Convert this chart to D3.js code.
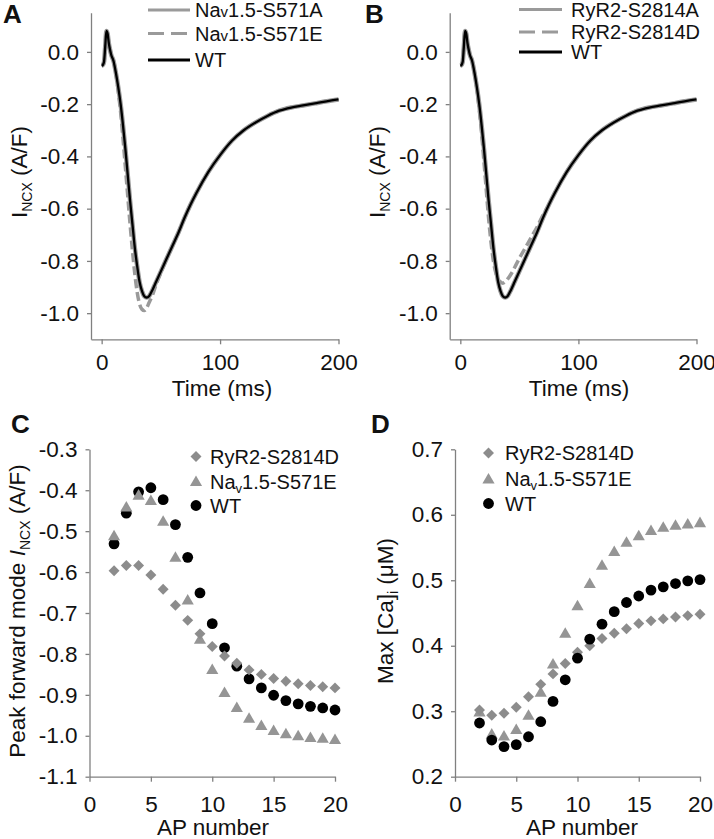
<!DOCTYPE html>
<html><head><meta charset="utf-8">
<script src="https://cdn.jsdelivr.net/npm/d3@7"></script>
<style>body{margin:0;background:#fff} text{font-family:"Liberation Sans",Arial,sans-serif;fill:#111}</style>
</head><body><svg id="c" width="714" height="839"></svg>
<script>
// ---------- data ----------
const timeMs = [0,1,2,3,4,5,6,7,8,10,12,14,16,18,20,22,24,26,28,30,32,34,36,38,40,43,46,50,55,60,65,70,75,80,90,100,110,120,130,140,150,160,170,180,190,200];
const wtTrace = [-0.053,-0.05,-0.038,0.02,0.08,0.07,0.035,0.01,-0.01,-0.035,-0.08,-0.135,-0.2,-0.28,-0.37,-0.47,-0.57,-0.66,-0.75,-0.82,-0.88,-0.915,-0.935,-0.94,-0.935,-0.91,-0.88,-0.84,-0.79,-0.74,-0.69,-0.635,-0.585,-0.54,-0.46,-0.395,-0.34,-0.3,-0.27,-0.245,-0.225,-0.213,-0.205,-0.197,-0.189,-0.182];
const nav571ATrace = [-0.053,-0.05,-0.038,0.02,0.08,0.07,0.035,0.01,-0.01,-0.035,-0.08,-0.135,-0.2,-0.28,-0.37,-0.47,-0.57,-0.66,-0.75,-0.82,-0.88,-0.915,-0.935,-0.94,-0.935,-0.91,-0.88,-0.84,-0.79,-0.74,-0.69,-0.635,-0.585,-0.54,-0.46,-0.395,-0.34,-0.3,-0.27,-0.245,-0.225,-0.213,-0.205,-0.197,-0.189,-0.182];
const nav571ETrace = [-0.053,-0.05,-0.038,0.02,0.08,0.07,0.035,0.01,-0.01,-0.035,-0.08,-0.15,-0.23,-0.33,-0.44,-0.55,-0.66,-0.76,-0.85,-0.92,-0.965,-0.985,-0.99,-0.98,-0.96,-0.93,-0.89,-0.845,-0.79,-0.74,-0.69,-0.635,-0.585,-0.54,-0.46,-0.395,-0.34,-0.3,-0.27,-0.245,-0.225,-0.213,-0.205,-0.197,-0.189,-0.182];
const ryr2814ATrace = [-0.053,-0.05,-0.038,0.02,0.08,0.07,0.035,0.01,-0.01,-0.035,-0.08,-0.135,-0.2,-0.28,-0.37,-0.47,-0.57,-0.66,-0.75,-0.82,-0.88,-0.915,-0.935,-0.94,-0.935,-0.91,-0.88,-0.84,-0.79,-0.74,-0.69,-0.635,-0.585,-0.54,-0.46,-0.395,-0.34,-0.3,-0.27,-0.245,-0.225,-0.213,-0.205,-0.197,-0.189,-0.182];
const ryr2814DTrace = [-0.053,-0.05,-0.038,0.02,0.08,0.07,0.035,0.01,-0.01,-0.035,-0.08,-0.14,-0.22,-0.31,-0.42,-0.53,-0.64,-0.73,-0.8,-0.845,-0.87,-0.88,-0.885,-0.88,-0.87,-0.85,-0.825,-0.79,-0.75,-0.71,-0.67,-0.625,-0.585,-0.54,-0.46,-0.395,-0.34,-0.3,-0.27,-0.245,-0.225,-0.213,-0.205,-0.197,-0.189,-0.182];

const apNumber = [2,3,4,5,6,7,8,9,10,11,12,13,14,15,16,17,18,19,20];
const peakRyR2D = [-0.597,-0.584,-0.584,-0.607,-0.642,-0.681,-0.718,-0.751,-0.782,-0.805,-0.823,-0.839,-0.85,-0.86,-0.867,-0.873,-0.877,-0.88,-0.883];
const peakNav571E = [-0.511,-0.441,-0.412,-0.425,-0.476,-0.564,-0.668,-0.764,-0.838,-0.894,-0.931,-0.957,-0.975,-0.987,-0.995,-1.0,-1.004,-1.006,-1.009];
const peakWT = [-0.531,-0.456,-0.404,-0.394,-0.423,-0.484,-0.564,-0.651,-0.726,-0.785,-0.83,-0.861,-0.883,-0.901,-0.914,-0.922,-0.928,-0.932,-0.937];
const caRyR2D = [0.302,0.294,0.297,0.306,0.322,0.341,0.357,0.373,0.39,0.4,0.411,0.419,0.426,0.434,0.438,0.441,0.444,0.446,0.448];
const caNav571E = [0.299,0.265,0.262,0.272,0.294,0.329,0.372,0.419,0.461,0.495,0.523,0.544,0.558,0.568,0.576,0.581,0.584,0.586,0.588];
const caWT = [0.282,0.256,0.246,0.249,0.261,0.284,0.315,0.348,0.381,0.41,0.433,0.452,0.466,0.476,0.485,0.49,0.495,0.499,0.501];

const traceTicksY = [0,-0.2,-0.4,-0.6,-0.8,-1.0];
const traceTicksX = [0,100,200];
const apTicks = [0,5,10,15,20];
const peakTicksY = [-0.3,-0.4,-0.5,-0.6,-0.7,-0.8,-0.9,-1.0,-1.1];
const caTicksY = [0.2,0.3,0.4,0.5,0.6,0.7];

// ---------- drawing ----------
const svg = d3.select("#c");
const AX = "#808080", GRAY_LINE = "#9a9a9a", DIA = "#8c8c8c", TRI = "#959595";
const FS = 22.5;

function axes(g, x, y, xt, yt, fmtX, fmtY, xPad) {
  const ya = g.append("g").attr("transform", `translate(${x.range()[0]},0)`)
    .call(d3.axisLeft(y).tickValues(yt).tickSize(4).tickSizeOuter(0).tickPadding(8).tickFormat(fmtY));
  const xa = g.append("g").attr("transform", `translate(0,${y.range()[0]})`)
    .call(d3.axisBottom(x).tickValues(xt).tickSize(5).tickSizeOuter(0).tickPadding(xPad).tickFormat(fmtX));
  [ya, xa].forEach(a => {
    a.selectAll("path,line").attr("stroke", AX).attr("stroke-width", 1.3);
    a.selectAll("text").attr("font-size", FS).attr("fill", "#111").attr("font-family", "'Liberation Sans', Arial, sans-serif");
  });
}
const f1 = d => d.toFixed(1);
const f0 = d => String(d);

function letter(t, x, y) {
  svg.append("text").attr("x", x).attr("y", y).attr("font-size", 26).attr("font-weight", "bold").text(t);
}

// Trace panels
function tracePanel(x0, x1, series, legend, legendPos, letterPos, ylabX, xlabX) {
  const x = d3.scaleLinear().domain([-9, 200]).range([x0, x1]);
  const y = d3.scaleLinear().domain([-1.1, 0.15]).range([339.3, 12.7]);
  const g = svg.append("g");
  axes(g, x, y, traceTicksX, traceTicksY, f0, f1, 10);
  const line = d3.line().x((d, i) => x(timeMs[i])).y(d => y(d)).curve(d3.curveMonotoneX);
  series.forEach(s => {
    g.append("path").attr("d", line(s.data)).attr("fill", "none")
      .attr("stroke", s.color).attr("stroke-width", s.w)
      .attr("stroke-dasharray", s.dash || null).attr("stroke-linejoin", "round");
  });
  legend.forEach((s, i) => {
    const ly = legendPos.rows[i];
    g.append("line").attr("x1", legendPos.x1).attr("x2", legendPos.x2).attr("y1", ly).attr("y2", ly)
      .attr("stroke", s.color).attr("stroke-width", s.lw).attr("stroke-dasharray", s.ldash || null);
    const t = g.append("text").attr("x", legendPos.tx).attr("y", ly + 7).attr("font-size", 20);
    s.label(t);
  });
  const yl = g.append("text").attr("transform", `translate(${ylabX},172) rotate(-90)`).attr("text-anchor", "middle").attr("font-size", FS);
  yl.append("tspan").text("I");
  yl.append("tspan").attr("font-size", 14).attr("dy", 5).text("NCX");
  yl.append("tspan").attr("dy", -5).text(" (A/F)");
  g.append("text").attr("x", xlabX).attr("y", 396).attr("text-anchor", "middle").attr("font-size", FS).text("Time (ms)");
  letter(letterPos[0], letterPos[1], letterPos[2]);
}

function navLabelSmall(suffix) {
  return t => { t.append("tspan").text("Na"); t.append("tspan").attr("font-size", 15).text("v"); t.append("tspan").text("1.5-" + suffix); };
}
function navLabelSub(suffix) {
  return t => { t.append("tspan").text("Na"); t.append("tspan").attr("font-size", 13).attr("dy", 4).text("v"); t.append("tspan").attr("dy", -4).text("1.5-" + suffix); };
}
const plain = s => t => t.text(s);

tracePanel(91, 338.5,
  [{data: nav571ATrace, color: GRAY_LINE, w: 4.5},
   {data: nav571ETrace, color: GRAY_LINE, w: 3.5, dash: "9,4"},
   {data: wtTrace, color: "#000", w: 2.3}],
  [{color: GRAY_LINE, lw: 3, label: navLabelSmall("S571A")},
   {color: GRAY_LINE, lw: 3, ldash: "16,7", label: navLabelSmall("S571E")},
   {color: "#000", lw: 3, label: plain("WT")}],
  {x1: 148, x2: 190, tx: 195, rows: [10, 33.5, 60]},
  ["A", 3, 23], 27, 222);

tracePanel(449.7, 696.5,
  [{data: ryr2814ATrace, color: GRAY_LINE, w: 4.5},
   {data: ryr2814DTrace, color: GRAY_LINE, w: 3.5, dash: "9,4"},
   {data: wtTrace, color: "#000", w: 2.3}],
  [{color: GRAY_LINE, lw: 3, label: plain("RyR2-S2814A")},
   {color: GRAY_LINE, lw: 3, ldash: "16,7", label: plain("RyR2-S2814D")},
   {color: "#000", lw: 3, label: plain("WT")}],
  {x1: 519, x2: 562, tx: 571, rows: [9.5, 32, 52]},
  ["B", 365, 23], 385, 579);

// Scatter panels
const triSym = d3.symbol(d3.symbolTriangle, 64)();
const sqSym = d3.symbol(d3.symbolSquare, 60)();

function scatterPanel(x0, x1, yDom, yTicks, sets, legendPos, letterPos, ylab, ylabX, xlabX) {
  const x = d3.scaleLinear().domain([0, 20]).range([x0, x1]);
  const y = d3.scaleLinear().domain(yDom).range([776.7, 449.3]);
  const g = svg.append("g");
  axes(g, x, y, apTicks, yTicks, f0, f1, 14);
  const draw = (kind, sel, px, py) => {
    if (kind === "dia") sel.append("path").attr("d", sqSym).attr("fill", DIA).attr("transform", `translate(${px},${py}) rotate(45)`);
    else if (kind === "tri") sel.append("path").attr("d", triSym).attr("fill", TRI).attr("transform", `translate(${px},${py + 1})`);
    else sel.append("circle").attr("cx", px).attr("cy", py).attr("r", 5.4).attr("fill", "#000");
  };
  sets.forEach(s => s.data.forEach((v, i) => draw(s.kind, g, x(apNumber[i]), y(v))));
  const labels = [plain("RyR2-S2814D"), navLabelSub("S571E"), plain("WT")];
  const kinds = ["dia", "tri", "circ"];
  kinds.forEach((k, i) => {
    const ly = legendPos.rows[i];
    draw(k, g, legendPos.mx, ly);
    const t = g.append("text").attr("x", legendPos.tx).attr("y", ly + 7).attr("font-size", 20);
    labels[i](t);
  });
  const yl = g.append("text").attr("transform", `translate(${ylabX},611) rotate(-90)`).attr("text-anchor", "middle").attr("font-size", FS);
  ylab(yl);
  g.append("text").attr("x", xlabX).attr("y", 835).attr("text-anchor", "middle").attr("font-size", FS).text("AP number");
  letter(letterPos[0], letterPos[1], letterPos[2]);
}

scatterPanel(89.5, 335, [-1.1, -0.3], peakTicksY,
  [{kind: "circ", data: peakWT}, {kind: "tri", data: peakNav571E}, {kind: "dia", data: peakRyR2D}],
  {mx: 196, tx: 210, rows: [456.5, 481.5, 505.5]},
  ["C", 11, 433],
  t => { t.append("tspan").text("Peak forward mode "); t.append("tspan").attr("font-style", "italic").text("I");
         t.append("tspan").attr("font-size", 14).attr("dy", 5).text("NCX"); t.append("tspan").attr("dy", -5).text(" (A/F)"); },
  25, 213);

scatterPanel(455, 700, [0.2, 0.7], caTicksY,
  [{kind: "tri", data: caNav571E}, {kind: "dia", data: caRyR2D}, {kind: "circ", data: caWT}],
  {mx: 488.5, tx: 505, rows: [453, 479, 503.5]},
  ["D", 371, 433],
  t => { t.append("tspan").text("Max [Ca]"); t.append("tspan").attr("font-size", 14).attr("dy", 5).text("i");
         t.append("tspan").attr("dy", -5).text(" (\u03bcM)"); },
  393, 582);
</script></body></html>
